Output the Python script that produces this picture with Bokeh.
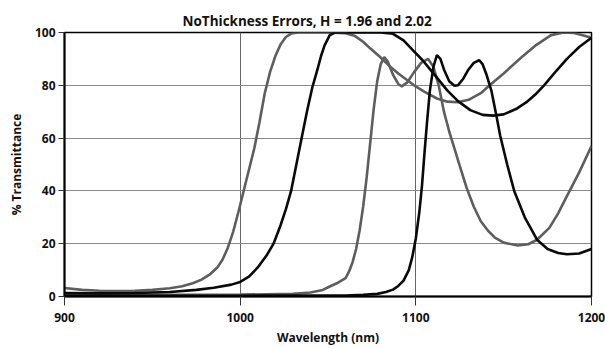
from bokeh.plotting import figure
from bokeh.embed import file_html
from bokeh.resources import INLINE
from bokeh.models import FixedTicker, Range1d

# ---- data ----
title_text = "NoThickness Errors, H = 1.96 and 2.02"
x_ticks = [900, 1000, 1100, 1200]
y_ticks = [0, 20, 40, 60, 80, 100]

# Gray curve A
wl_a = [900, 910, 920, 930, 940, 950, 960, 967, 973, 978, 983, 987, 990, 993, 996, 999,
        1002, 1005, 1008, 1011, 1014, 1017, 1020, 1023, 1026, 1029, 1033, 1040, 1050,
        1060, 1065, 1070, 1074, 1080, 1085.5, 1090, 1095, 1099, 1105, 1112, 1118, 1124,
        1130, 1137, 1142, 1150, 1160, 1168, 1177, 1184, 1190, 1195, 1200]
t_a = [3.2, 2.5, 2.2, 2.1, 2.2, 2.5, 3.1, 3.9, 5, 6.4, 8.5, 11, 14, 18.5, 24.5, 32,
       40, 48, 56, 66, 77, 85, 91, 95.5, 98.3, 99.6, 100, 100, 100,
       99.7, 98.8, 96.5, 94, 90.5, 87, 84.5, 82, 80, 77.5, 75, 73.8, 73.6,
       74.5, 77, 80, 84.5, 90.5, 95, 99, 100, 99.8, 99, 98]

# Black curve B
wl_b = [900, 920, 940, 960, 975, 985, 995, 1000, 1005, 1010, 1015, 1019, 1023, 1026,
        1029, 1032, 1035, 1038, 1041, 1044, 1046, 1048, 1051, 1054, 1060, 1070, 1080,
        1087, 1093, 1098, 1104, 1110, 1118, 1124, 1131, 1138, 1144, 1150, 1157, 1163,
        1168, 1173, 1180, 1186, 1193, 1200]
t_b = [1.3, 1.2, 1.3, 1.7, 2.5, 3.3, 4.5, 5.5, 7.5, 11, 15.5, 20, 27, 33,
       40, 50, 60, 70, 79, 86, 91, 95, 99, 100, 100, 100, 100,
       99.5, 97, 93.5, 89.4, 84.5, 78, 74, 70.6, 68.8, 68.5, 69, 71, 73.6,
       76.5, 80, 85.5, 90, 94.5, 98]

# Gray curve C
wl_c = [900, 950, 1000, 1030, 1040, 1047, 1051, 1055, 1060, 1062, 1064, 1066, 1068,
        1070, 1072, 1074, 1076, 1078, 1080, 1082, 1084, 1087, 1090, 1092, 1095, 1099,
        1103, 1107, 1110, 1113, 1116, 1119, 1122, 1125, 1129, 1133, 1137, 1141, 1145,
        1150, 1158, 1164, 1169, 1176, 1181, 1186, 1193, 1200]
t_c = [0.6, 0.6, 0.7, 1, 1.5, 2.5, 3.8, 5, 7, 9.5, 13, 18, 25,
       34, 45, 58, 71, 81.5, 88, 90.7, 89, 84, 80.5, 79.6, 81, 85,
       88.5, 90, 87, 80, 70, 62.5, 56, 49.5, 41, 34, 28.5, 25, 22.3,
       20.4, 19.3, 19.8, 21.5, 26, 31.5, 38, 47, 57]

# Black curve D
wl_d = [900, 1000, 1060, 1070, 1078, 1083, 1087, 1090, 1093, 1096, 1098, 1100, 1102,
        1103.5, 1105, 1106.5, 1108, 1110, 1112, 1114, 1116, 1119, 1122, 1124, 1127,
        1130, 1133, 1136, 1138, 1140, 1143, 1146, 1148, 1152, 1156, 1162, 1169, 1175,
        1181, 1186, 1193, 1200]
t_d = [0.3, 0.3, 0.4, 0.6, 1, 1.7, 2.6, 4, 6, 10, 15, 22, 32,
       42, 55, 67, 78, 87, 91.4, 90, 86, 81.5, 79.8, 80, 82.5,
       86, 88.5, 89.5, 88, 84.5, 78, 68, 61, 50, 40, 30, 21.5, 18,
       16.5, 16, 16.3, 18]

GRAY = "#5e5e5e"
BLACK = "#0a0a0a"
FONT = "Open Sans"

p = figure(width=605, height=348, output_backend="svg", toolbar_location=None,
           x_range=Range1d(900, 1200), y_range=Range1d(0, 100),
           min_border_left=64, min_border_right=14, min_border_top=32, min_border_bottom=51,
           title=title_text)

p.title.align = "left"
p.title.offset = 118
p.title.text_font = FONT
p.title.text_font_size = "13.5px"
p.title.text_font_style = "bold"
p.title.text_color = "#111111"
p.title.standoff = 5

p.line(wl_a, t_a, line_color=GRAY, line_width=2.6)
p.line(wl_c, t_c, line_color=GRAY, line_width=2.6)
p.line(wl_b, t_b, line_color=BLACK, line_width=2.6)
p.line(wl_d, t_d, line_color=BLACK, line_width=2.6)

p.xaxis.ticker = FixedTicker(ticks=x_ticks)
p.yaxis.ticker = FixedTicker(ticks=y_ticks)
for ax in (p.xaxis[0], p.yaxis[0]):
    ax.axis_line_color = "#000000"
    ax.axis_line_width = 2
    ax.major_tick_line_color = "#333333"
    ax.major_tick_line_width = 1
    ax.major_tick_in = 0
    ax.minor_tick_line_color = None
    ax.major_label_text_font = FONT
    ax.major_label_text_font_size = "12px"
    ax.major_label_text_font_style = "bold"
    ax.major_label_text_color = "#111111"
    ax.axis_label_text_font = FONT
    ax.axis_label_text_font_size = "12px"
    ax.axis_label_text_font_style = "bold"
    ax.axis_label_text_color = "#111111"

p.xaxis.axis_label = "Wavelength (nm)"
p.yaxis.axis_label = "% Transmittance"
p.xaxis.major_tick_out = 9
p.yaxis.major_tick_out = 6
p.xaxis.major_label_standoff = 7
p.yaxis.major_label_standoff = 3
p.xaxis.axis_label_standoff = 4
p.yaxis.axis_label_standoff = 7

p.xgrid.ticker = FixedTicker(ticks=x_ticks)
p.ygrid.ticker = FixedTicker(ticks=y_ticks)
p.xgrid.grid_line_color = "#666666"
p.ygrid.grid_line_color = "#8a8a8a"
p.xgrid.grid_line_width = 1
p.ygrid.grid_line_width = 1

p.outline_line_color = "#000000"
p.outline_line_width = 1.5
p.background_fill_color = "white"
p.border_fill_color = "white"

open("out.html", "w").write(file_html(p, INLINE))
